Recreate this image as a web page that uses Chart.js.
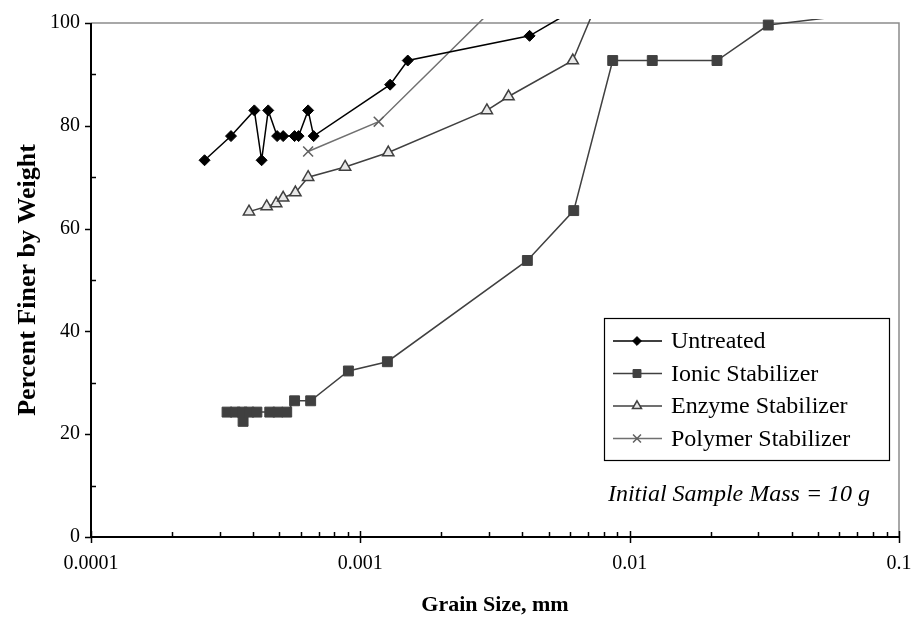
<!DOCTYPE html>
<html>
<head>
<meta charset="utf-8">
<script src="https://cdn.jsdelivr.net/npm/chart.js@4/dist/chart.umd.min.js"></script>
<style>
  html, body { margin: 0; padding: 0; background: #fff; }
  #chart { display: block; }
</style>
</head>
<body>
<canvas id="chart" width="915" height="623"></canvas>
<script>
// grain size (mm) and percent finer
var untreatedX = [0.000264, 0.000331, 0.000404, 0.00043, 0.000455, 0.000491, 0.000517, 0.00057, 0.00059, 0.00064, 0.000671, 0.00129, 0.0015, 0.00425, 0.0087];
var untreatedY = [73.3, 78, 83, 73.3, 83, 78, 78, 78, 78, 83, 78, 88, 92.7, 97.5, 107];

var ionicX = [0.00032, 0.000343, 0.000364, 0.000367, 0.000386, 0.000413, 0.000461, 0.000494, 0.000533, 0.00057, 0.000654, 0.000903, 0.00126, 0.00417, 0.0062, 0.00865, 0.01213, 0.0211, 0.0327, 0.07];
var ionicY = [24.3, 24.3, 24.3, 22.5, 24.3, 24.3, 24.3, 24.3, 24.3, 26.5, 26.5, 32.3, 34.1, 53.8, 63.5, 92.7, 92.7, 92.7, 99.6, 101.7];

var enzymeX = [0.000386, 0.000449, 0.000487, 0.000517, 0.000574, 0.00064, 0.000878, 0.00127, 0.00295, 0.00355, 0.00615, 0.0087];
var enzymeY = [63.3, 64.3, 64.9, 66.0, 67.0, 70.0, 72.0, 74.8, 83.0, 85.7, 92.7, 111.5];

var polymerX = [0.00064, 0.00117, 0.0043];
var polymerY = [75, 80.8, 110];

var seriesNames = ['Untreated', 'Ionic Stabilizer', 'Enzyme Stabilizer', 'Polymer Stabilizer'];
var xTickValues = [0.0001, 0.001, 0.01, 0.1];
var xTickLabels = ['0.0001', '0.001', '0.01', '0.1'];
var yTickValues = [0, 20, 40, 60, 80, 100];
var noteText = 'Initial Sample Mass = 10 g';

function toPoints(xs, ys) {
    var pts = [];
    for (var i = 0; i < xs.length; i++) pts.push({ x: xs[i], y: ys[i] });
    return pts;
}

var SERIF = '"Liberation Serif", "Times New Roman", serif';
var CLIP = { left: 6, top: 4, right: 6, bottom: 6 };

// axes, tick marks, legend box and note
var framePlugin = {
    id: 'frame',
    beforeDatasetsDraw: function (chart) {
        var ctx = chart.ctx;
        var a = chart.chartArea;
        var xs = chart.scales.x;
        var ys = chart.scales.y;
        ctx.save();
        // top and right border (light)
        ctx.strokeStyle = '#8c8c8c';
        ctx.lineWidth = 1.5;
        ctx.beginPath();
        ctx.moveTo(a.left, a.top);
        ctx.lineTo(a.right, a.top);
        ctx.lineTo(a.right, a.bottom);
        ctx.stroke();

        ctx.strokeStyle = '#000';
        ctx.lineWidth = 1.5;
        // y minor ticks (inside)
        for (var v = 10; v < 100; v += 20) {
            var py = Math.round(ys.getPixelForValue(v)) + 0.5;
            ctx.beginPath();
            ctx.moveTo(a.left, py);
            ctx.lineTo(a.left + 5, py);
            ctx.stroke();
        }
        // y major ticks (outside)
        yTickValues.forEach(function (t) {
            var py = Math.round(ys.getPixelForValue(t)) + 0.5;
            ctx.beginPath();
            ctx.moveTo(a.left - 6, py);
            ctx.lineTo(a.left, py);
            ctx.stroke();
        });
        // x minor ticks (inside)
        for (var d = -4; d < -1; d++) {
            for (var m = 2; m <= 9; m++) {
                var px = Math.round(xs.getPixelForValue(m * Math.pow(10, d))) + 0.5;
                ctx.beginPath();
                ctx.moveTo(px, a.bottom);
                ctx.lineTo(px, a.bottom - 5);
                ctx.stroke();
            }
        }
        // x major ticks (crossing)
        xTickValues.forEach(function (t) {
            var px = Math.round(xs.getPixelForValue(t)) + 0.5;
            ctx.beginPath();
            ctx.moveTo(px, a.bottom - 6);
            ctx.lineTo(px, a.bottom + 6);
            ctx.stroke();
        });
        // axis lines
        ctx.lineWidth = 2;
        ctx.beginPath();
        ctx.moveTo(a.left, a.top);
        ctx.lineTo(a.left, a.bottom);
        ctx.lineTo(a.right, a.bottom);
        ctx.stroke();
        ctx.restore();
    },
    afterDraw: function (chart) {
        var ctx = chart.ctx;
        var sets = chart.data.datasets;
        ctx.save();
        // legend box
        var bx = 604, by = 318, bw = 285, bh = 142;
        ctx.fillStyle = '#fff';
        ctx.fillRect(bx, by, bw, bh);
        ctx.strokeStyle = '#000';
        ctx.lineWidth = 1.2;
        ctx.strokeRect(bx + 0.5, by + 0.5, bw, bh);
        ctx.font = '24px ' + SERIF;
        ctx.textBaseline = 'middle';
        ctx.textAlign = 'left';
        for (var i = 0; i < sets.length; i++) {
            var ds = sets[i];
            var ry = 341 + i * 32.5;
            ctx.strokeStyle = ds.borderColor;
            ctx.lineWidth = ds.borderWidth;
            ctx.beginPath();
            ctx.moveTo(613, ry);
            ctx.lineTo(662, ry);
            ctx.stroke();
            ctx.fillStyle = ds.pointBackgroundColor;
            ctx.strokeStyle = ds.pointBorderColor;
            ctx.lineWidth = ds.pointBorderWidth;
            Chart.helpers.drawPoint(ctx, {
                pointStyle: ds.pointStyle,
                radius: ds.pointRadius * 0.8,
                rotation: 0,
                borderWidth: ds.pointBorderWidth
            }, 637, ry);
            ctx.fillStyle = '#000';
            ctx.fillText(ds.label, 671, ry + 1);
        }
        // note
        ctx.font = 'italic 24px ' + SERIF;
        ctx.fillStyle = '#000';
        ctx.textAlign = 'center';
        ctx.fillText(noteText, 739, 495);
        ctx.restore();
    }
};

var ctx = document.getElementById('chart').getContext('2d');
var chart = new Chart(ctx, {
    type: 'scatter',
    data: {
        datasets: [{
            label: seriesNames[0],
            data: toPoints(untreatedX, untreatedY),
            showLine: true,
            borderColor: '#000',
            borderWidth: 1.5,
            pointStyle: 'rectRot',
            pointRadius: 5.5,
            pointBackgroundColor: '#000',
            pointBorderColor: '#000',
            pointBorderWidth: 1,
            clip: CLIP,
        }, {
            label: seriesNames[1],
            data: toPoints(ionicX, ionicY),
            showLine: true,
            borderColor: '#404040',
            borderWidth: 1.5,
            pointStyle: 'rect',
            pointRadius: 7,
            pointBackgroundColor: '#404040',
            pointBorderColor: '#404040',
            pointBorderWidth: 1,
            clip: CLIP,
        }, {
            label: seriesNames[2],
            data: toPoints(enzymeX, enzymeY),
            showLine: true,
            borderColor: '#404040',
            borderWidth: 1.5,
            pointStyle: 'triangle',
            pointRadius: 6.5,
            pointBackgroundColor: '#e8e8e8',
            pointBorderColor: '#404040',
            pointBorderWidth: 1.5,
            clip: CLIP,
        }, {
            label: seriesNames[3],
            data: toPoints(polymerX, polymerY),
            showLine: true,
            borderColor: '#707070',
            borderWidth: 1.5,
            pointStyle: 'crossRot',
            pointRadius: 7,
            pointBackgroundColor: '#606060',
            pointBorderColor: '#606060',
            pointBorderWidth: 1.5,
            clip: CLIP,
        }],
    },
    options: {
        responsive: false,
        animation: false,
        devicePixelRatio: 1,
        layout: { padding: { top: 18, right: 16, bottom: 0, left: 0 } },
        plugins: {
            legend: { display: false },
            tooltip: { enabled: false },
        },
        elements: { line: { tension: 0 } },
        scales: {
            x: {
                type: 'logarithmic',
                min: 0.0001,
                max: 0.1,
                grid: { display: false, drawTicks: false },
                border: { display: false },
                afterBuildTicks: function (scale) {
                    scale.ticks = xTickValues.map(function (v) { return { value: v }; });
                },
                afterFit: function (scale) {
                    scale.height = 86;
                    scale.paddingLeft = 0;
                    scale.paddingRight = 0;
                },
                ticks: {
                    autoSkip: false,
                    maxRotation: 0,
                    padding: 15,
                    color: '#000',
                    font: { family: SERIF, size: 20 },
                    callback: function (value, index) { return xTickLabels[index]; },
                },
                title: {
                    display: true,
                    text: 'Grain Size, mm',
                    color: '#000',
                    font: { family: SERIF, size: 22, weight: 'bold' },
                    padding: { top: 0, bottom: 4 },
                },
            },
            y: {
                min: 0,
                max: 100,
                grid: { display: false, drawTicks: false },
                border: { display: false },
                afterBuildTicks: function (scale) {
                    scale.ticks = yTickValues.map(function (v) { return { value: v }; });
                },
                afterFit: function (scale) { scale.width = 91; },
                ticks: {
                    padding: 11,
                    color: '#000',
                    font: { family: SERIF, size: 20 },
                },
                title: {
                    display: true,
                    text: 'Percent Finer by Weight',
                    color: '#000',
                    font: { family: SERIF, size: 26, weight: 'bold' },
                    padding: { top: 13, bottom: 0 },
                },
            },
        },
    },
    plugins: [framePlugin],
});
</script>
</body>
</html>
